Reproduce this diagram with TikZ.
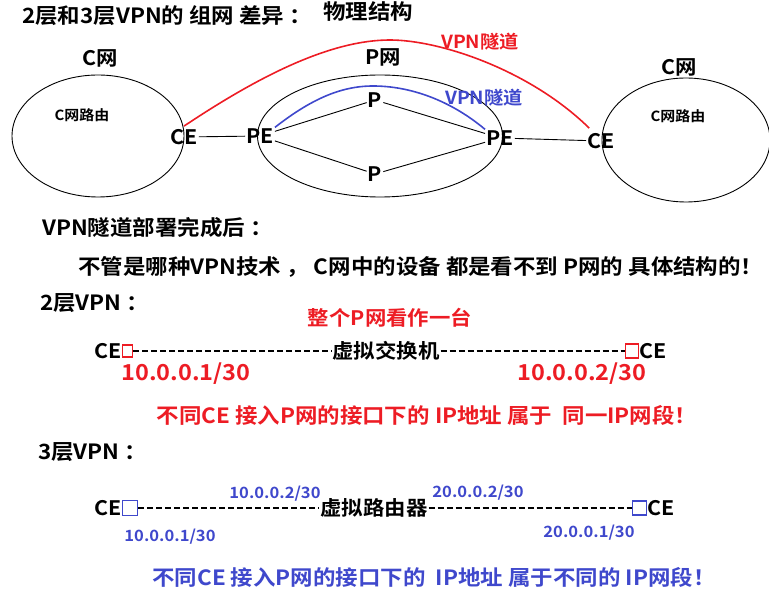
\documentclass[tikz,border=0pt]{standalone}
\usepackage{fontspec}
\setmainfont{Noto Sans CJK SC Bold}[FakeStretch=1.07]
\usetikzlibrary{positioning,calc,shapes.geometric}
\definecolor{tunred}{RGB}{237,28,36}
\definecolor{tunblue}{RGB}{63,72,204}
\tikzset{
  net/.style={ellipse, draw=black, line width=0.9pt, inner sep=0pt},
  dev/.style={inner sep=1pt, font=\fontsize{20}{24}\selectfont},
  head/.style={anchor=west, inner sep=0pt, font=\fontsize{21}{25}\selectfont},
  small/.style={inner sep=0pt, font=\fontsize{14}{17}\selectfont},
  redtxt/.style={inner sep=0pt, text=tunred, font=\fontsize{21}{25}\selectfont},
  bluetxt/.style={inner sep=0pt, text=tunblue, font=\fontsize{21}{25}\selectfont},
  redip/.style={inner sep=0pt, text=tunred, font=\fontsize{22}{26}\selectfont},
  blueip/.style={inner sep=0pt, text=tunblue, font=\fontsize{15.5}{18}\selectfont},
  link/.style={draw=black, line width=0.9pt},
  tunnel/.style={line width=1.6pt},
  virt/.style={draw=black, line width=1.2pt, dash pattern=on 6pt off 3pt},
  port/.style={draw, line width=1.2pt, inner sep=0pt, minimum width=10, minimum height=12},
}

\begin{document}
\begin{tikzpicture}[x=1pt, y=-1pt]
  \useasboundingbox (0,0) rectangle (769,593);
  % physical structure
  \node[head] (title) at (22,16) {2层和3层VPN的 组网 差异 ：};
  \node[head] (phys) at (323,12) {物理结构};
  \node[net, minimum width=172, minimum height=122] (cnetL) at (98,136) {};
  \node[net, minimum width=245, minimum height=122] (pnet) at (380,136) {};
  \node[net, minimum width=168, minimum height=124] (cnetR) at (686,140) {};
  \node[dev] (cnameL) at (100,58) {C网};
  \node[dev] (pname) at (383,57) {P网};
  \node[dev] (cnameR) at (679,67) {C网};
  \node[small] (crtL) at (82,115) {C网路由};
  \node[small] (crtR) at (678,116) {C网路由};
  \node[dev] (ceL) at (184,137) {CE};
  \node[dev] (peL) at (260,136) {PE};
  \node[dev] (pT) at (375,100) {P};
  \node[dev] (pB) at (375,174) {P};
  \node[dev] (peR) at (500,138) {PE};
  \node[dev] (ceR) at (601,141) {CE};
  \draw[link] (ceL) -- (peL);
  \draw[link] (peL) -- (pT);
  \draw[link] (peL) -- (pB);
  \draw[link] (pT) -- (peR);
  \draw[link] (pB) -- (peR);
  \draw[link] (peR) -- (ceR);
  \draw[tunnel, tunred] ($(ceL.north)+(0,-2)$) .. controls (262,74) and (332,40) .. (390,40)
    .. controls (440,40) and (530,70) .. ($(ceR.north west)+(3,-4)$);
  \draw[tunnel, tunblue] (peL.north east) .. controls (310,100) and (340,86) .. (373,86)
    .. controls (410,86) and (450,100) .. (peR.north west);
  \node[redtxt, font=\fontsize{18}{22}\selectfont] (redtun) at (480,42) {VPN隧道};
  \node[bluetxt, font=\fontsize{18}{22}\selectfont] (bluetun) at (484,98) {VPN隧道};
  % after deployment
  \node[head] (after) at (42,228) {VPN隧道部署完成后 ：};
  \node[head] (note) at (78,267) {不管是哪种VPN技术 ， C网中的设备 都是看不到 P网的 具体结构的！};
  % layer 2
  \node[head] (l2) at (40,303) {2层VPN ：};
  \node[redtxt, font=\fontsize{20}{24}\selectfont] (whole) at (390,318) {整个P网看作一台};
  \node[dev] (ce2L) at (108,351) {CE};
  \node[port, tunred, right=-1pt of ce2L] (sq2L) {};
  \node[dev] (vsw) at (386,351) {虚拟交换机};
  \node[dev] (ce2R) at (653,351) {CE};
  \node[port, tunred, minimum width=13, minimum height=14, left=-1pt of ce2R] (sq2R) {};
  \draw[virt] (sq2L.east) -- (vsw.west);
  \draw[virt] (vsw.east) -- (sq2R.west);
  \node[redip] (ip2a) at (186,374) {10.0.0.1/30};
  \node[redip] (ip2b) at (582,374) {10.0.0.2/30};
  \node[redtxt] (same) at (427,415) {不同CE 接入P网的接口下的 IP地址 属于~ 同一IP网段！};
  % layer 3
  \node[head] (l3) at (38,452) {3层VPN ：};
  \node[dev] (ce3L) at (108,508) {CE};
  \node[port, tunblue, minimum width=15, minimum height=15, right=-1pt of ce3L] (sq3L) {};
  \node[dev] (vrt) at (374,508) {虚拟路由器};
  \node[dev] (ce3R) at (661,508) {CE};
  \node[port, tunblue, minimum width=14, minimum height=14, left=-1pt of ce3R] (sq3R) {};
  \draw[virt] (sq3L.east) -- (vrt.west);
  \draw[virt] (vrt.east) -- (sq3R.west);
  \node[blueip] (ip3b) at (275,494) {10.0.0.2/30};
  \node[blueip] (ip3c) at (478,493) {20.0.0.2/30};
  \node[blueip] (ip3a) at (170,537) {10.0.0.1/30};
  \node[blueip] (ip3d) at (589,533) {20.0.0.1/30};
  \node[bluetxt] (diff) at (434,577) {不同CE 接入P网的接口下的~ IP地址 属于不同的 IP网段！};
\end{tikzpicture}
\end{document}
